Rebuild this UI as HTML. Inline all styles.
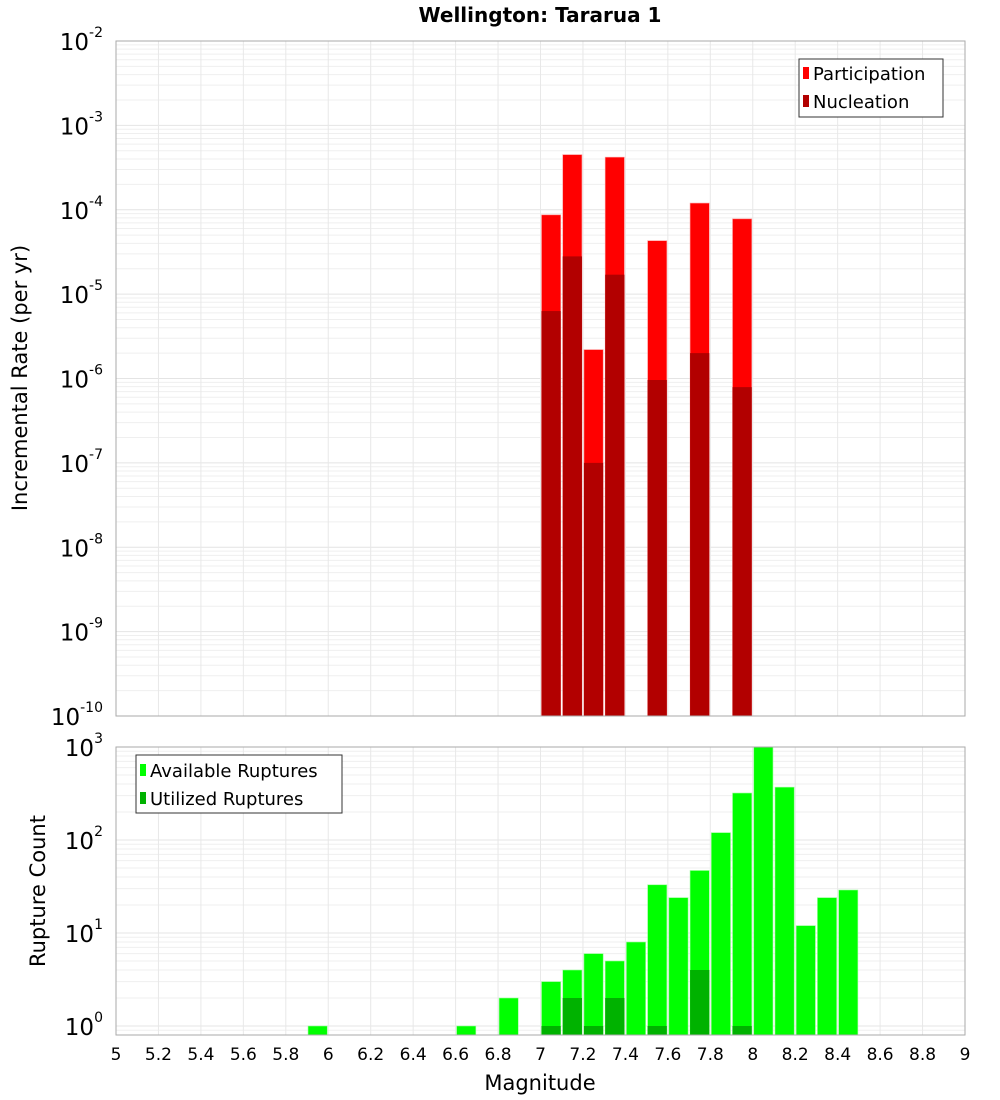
<!DOCTYPE html>
<html><head><meta charset="utf-8">
<style>
html,body{margin:0;padding:0;background:#fff;}
svg{display:block;font-family:"DejaVu Sans","Liberation Sans",sans-serif;}
</style></head>
<body>
<svg id="chart" width="1000" height="1100" viewBox="0 0 1000 1100" xmlns="http://www.w3.org/2000/svg">
<text x="540" y="22" text-anchor="middle" font-size="20" font-weight="bold">Wellington: Tararua 1</text>
<g id="topPlot"></g>
<g id="botPlot"></g>
<text transform="translate(27,378) rotate(-90)" text-anchor="middle" font-size="21">Incremental Rate (per yr)</text>
<text transform="translate(45,891) rotate(-90)" text-anchor="middle" font-size="21">Rupture Count</text>
<text x="540" y="1090" text-anchor="middle" font-size="21">Magnitude</text>
</svg>
<script>
const rateMags = [7.05, 7.15, 7.25, 7.35, 7.55, 7.75, 7.95];
const participation = [8.7e-5, 4.5e-4, 2.2e-6, 4.2e-4, 4.3e-5, 1.2e-4, 7.8e-5];
const nucleation = [6.3e-6, 2.8e-5, 1.0e-7, 1.7e-5, 9.6e-7, 2.0e-6, 7.9e-7];
const countMags = [5.95, 6.65, 6.85, 7.05, 7.15, 7.25, 7.35, 7.45, 7.55, 7.65, 7.75, 7.85, 7.95, 8.05, 8.15, 8.25, 8.35, 8.45];
const available = [1, 1, 2, 3, 4, 6, 5, 8, 33, 24, 47, 120, 320, 1000, 370, 12, 24, 29];
const utilized = [0, 0, 0, 1, 2, 1, 2, 0, 1, 0, 4, 0, 1, 0, 0, 0, 0, 0];
const xTicks = [5, 5.2, 5.4, 5.6, 5.8, 6, 6.2, 6.4, 6.6, 6.8, 7, 7.2, 7.4, 7.6, 7.8, 8, 8.2, 8.4, 8.6, 8.8, 9];
const rateExps = [-10, -9, -8, -7, -6, -5, -4, -3, -2];
const countExps = [0, 1, 2, 3];

const NS = "http://www.w3.org/2000/svg";
const X0 = 116, X1 = 965;
const xs = m => X0 + (m - 5) / 4 * (X1 - X0);
const T0 = 41, T1 = 716;
const yTop = v => T0 + (-2 - Math.log10(v)) / 8 * (T1 - T0);
const B0 = 747, B1 = 1035, BDEC = 93;
const yBot = v => B0 + (3 - Math.log10(v)) * BDEC;

function el(tag, attrs, parent) {
  const e = document.createElementNS(NS, tag);
  for (const k in attrs) e.setAttribute(k, attrs[k]);
  parent.appendChild(e);
  return e;
}

function grid(g, y0, y1, exps, yfn, minV) {
  exps.forEach(e => {
    for (let k = 1; k <= 9; k++) {
      const y = yfn(k * Math.pow(10, e));
      if (y < y0 - 0.5 || y > y1 + 0.5) continue;
      el('line', {x1: X0, x2: X1, y1: y, y2: y, stroke: k === 1 ? '#e4e4e4' : '#efefef', 'stroke-width': 1}, g);
    }
  });
  if (minV) for (let k = 1; k <= 9; k++) {
    const y = yfn(k * minV);
    if (y > y0 && y < y1) el('line', {x1: X0, x2: X1, y1: y, y2: y, stroke: '#efefef'}, g);
  }
  xTicks.forEach(t => {
    const x = xs(t);
    el('line', {x1: x, x2: x, y1: y0, y2: y1, stroke: '#e8e8e8'}, g);
  });
}

function yLabels(g, exps, yfn, ymin, ymax) {
  exps.forEach(e => {
    const y = yfn(Math.pow(10, e));
    if (y < ymin - 1 || y > ymax + 1) return;
    const t = el('text', {x: 103, y: y + 9, 'text-anchor': 'end', 'font-size': 23}, g);
    
    
    t.appendChild(document.createTextNode('10'));
    const s = el('tspan', {dy: -13, 'font-size': 14}, t);
    s.textContent = String(e);
  });
}

const topG = document.getElementById('topPlot');
grid(topG, T0, T1, rateExps, yTop);
rateMags.forEach((m, i) => {
  const x = xs(m - 0.05) + 1, w = xs(m + 0.05) - xs(m - 0.05) - 2;
  let y = yTop(participation[i]);
  const p = el('rect', {x: x, y: y, width: w, height: T1 - y, fill: '#ff0000', stroke: '#ff9a9a', 'stroke-width': 0.6}, topG);
  
  
  y = yTop(nucleation[i]);
  const n = el('rect', {x: x, y: y, width: w, height: T1 - y, fill: '#b20000'}, topG);
  
  
});
el('rect', {x: X0, y: T0, width: X1 - X0, height: T1 - T0, fill: 'none', stroke: '#aaaaaa'}, topG);
yLabels(topG, rateExps, yTop, T0, T1);

const lg1 = el('g', {}, topG);


el('rect', {x: 799, y: 59, width: 144, height: 58, fill: '#fff', stroke: '#333'}, lg1);
el('rect', {x: 803, y: 67, width: 6, height: 12, fill: '#ff0000'}, lg1);
el('rect', {x: 803, y: 95, width: 6, height: 12, fill: '#b20000'}, lg1);
el('text', {x: 813, y: 80, 'font-size': 18}, lg1).textContent = 'Participation';
el('text', {x: 813, y: 108, 'font-size': 18}, lg1).textContent = 'Nucleation';

const botG = document.getElementById('botPlot');
grid(botG, B0, B1, countExps, yBot, 0.1);
countMags.forEach((m, i) => {
  const x = xs(m - 0.05) + 1, w = xs(m + 0.05) - xs(m - 0.05) - 2;
  let y = yBot(available[i]);
  const a = el('rect', {x: x, y: y, width: w, height: B1 - y, fill: '#00ff00', stroke: '#9aff9a', 'stroke-width': 0.6}, botG);
  
  
  if (utilized[i] > 0) {
    y = yBot(utilized[i]);
    const u = el('rect', {x: x, y: y, width: w, height: B1 - y, fill: '#00b200'}, botG);
    
    
  }
});
el('rect', {x: X0, y: B0, width: X1 - X0, height: B1 - B0, fill: 'none', stroke: '#aaaaaa'}, botG);
yLabels(botG, countExps, yBot, B0, B1);

const lg2 = el('g', {}, botG);


el('rect', {x: 136, y: 755, width: 206, height: 58, fill: '#fff', stroke: '#333'}, lg2);
el('rect', {x: 140, y: 764, width: 6, height: 12, fill: '#00ff00'}, lg2);
el('rect', {x: 140, y: 792, width: 6, height: 12, fill: '#00b200'}, lg2);
el('text', {x: 150, y: 777, 'font-size': 18}, lg2).textContent = 'Available Ruptures';
el('text', {x: 150, y: 805, 'font-size': 18}, lg2).textContent = 'Utilized Ruptures';

xTicks.forEach(t => {
  const tx = el('text', {x: xs(t), y: 1060, 'text-anchor': 'middle', 'font-size': 17}, botG);
  
  
  tx.textContent = String(t);
});
</script>
</body></html>
